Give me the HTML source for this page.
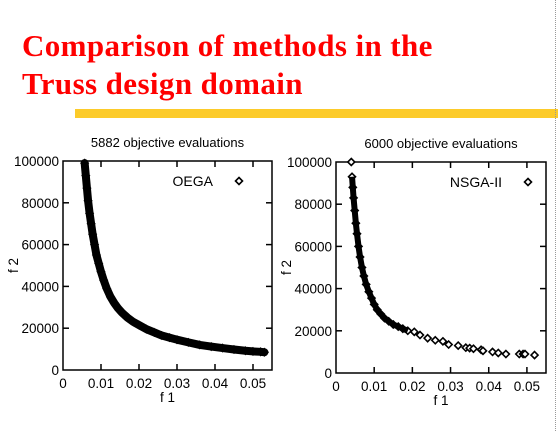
<!DOCTYPE html>
<html><head><meta charset="utf-8"><style>
body{margin:0;background:#fff;width:558px;height:431px;overflow:hidden;position:relative;font-family:"Liberation Sans",sans-serif}
.t{position:absolute;left:22px;color:#f00;font:bold 31px "Liberation Serif",serif;line-height:38px;letter-spacing:0.4px}
</style></head><body>
<div class="t" style="top:27px">Comparison of methods in the<br>Truss design domain</div>
<div style="position:absolute;left:75px;top:109px;width:483px;height:9px;background:#fccb2a"></div>
<div style="position:absolute;left:555px;top:0;width:0;height:431px;border-left:1px dotted #999"></div>
<svg id="svg" width="558" height="431" style="position:absolute;left:0;top:0" font-family="Liberation Sans, sans-serif"></svg>
<script>
const xTicks=[0,0.01,0.02,0.03,0.04,0.05];
const xTickLabels=["0","0.01","0.02","0.03","0.04","0.05"];
const yTicks=[0,20000,40000,60000,80000,100000];
const yTickLabels=["0","20000","40000","60000","80000","100000"];
const oegaF1=[0.0057,0.006,0.0063,0.0066,0.007,0.0074,0.0078,0.0083,0.0088,0.0094,0.01,0.0107,0.0115,0.0125,0.0135,0.0145,0.0155,0.017,0.0185,0.02,0.022,0.024,0.026,0.028,0.03,0.033,0.036,0.039,0.042,0.045,0.048,0.05,0.052,0.053];
const oegaF2=[99000,93000,87000,81000,75000,70000,65000,60000,55000,51000,47000,43000,39000,35000,32000,29500,27500,25000,23000,21500,19500,18000,16500,15500,14500,13200,12000,11200,10500,9800,9200,8900,8700,8500];
const nsgaF1=[0.004,0.0042,0.0044,0.0046,0.0049,0.0052,0.0055,0.0059,0.0063,0.0068,0.0073,0.0079,0.0086,0.0093,0.01,0.0108,0.0117,0.0127,0.0138,0.015,0.0163,0.0175,0.0188,0.0205,0.022,0.024,0.026,0.028,0.0295,0.032,0.034,0.035,0.036,0.038,0.0385,0.041,0.0425,0.0445,0.048,0.049,0.0495,0.052];
const nsgaF2=[100000,93000,88000,83000,77000,71000,66000,60000,55000,50000,46000,42000,38500,35500,32500,30000,28000,26000,24500,23000,22000,21000,20000,19500,18000,16500,15500,15000,13500,13000,12000,11800,11500,11000,10500,10000,9500,9000,9000,9000,9000,8500];
const svg=document.getElementById('svg');const NS='http://www.w3.org/2000/svg';
function mk(tag,at,parent){const e=document.createElementNS(NS,tag);for(const k in at)e.setAttribute(k,at[k]);(parent||svg).appendChild(e);return e;}
function chart(cfg){
  const g=mk('g',{});
  
  
  const sx=v=>cfg.x0+v/0.055*(cfg.x1-cfg.x0), sy=v=>cfg.y1-v/100000*(cfg.y1-cfg.y0);
  const fr=mk('rect',{x:cfg.x0,y:cfg.y0,width:cfg.x1-cfg.x0,height:cfg.y1-cfg.y0,fill:'none',stroke:'#000','stroke-width':1.5},g);
  
  
  xTicks.forEach((v,i)=>{const x=sx(v);
    if(i>0){mk('line',{x1:x,x2:x,y1:cfg.y1,y2:cfg.y1-6,stroke:'#000','stroke-width':1.5},g);mk('line',{x1:x,x2:x,y1:cfg.y0,y2:cfg.y0+6,stroke:'#000','stroke-width':1.5},g);}
    const t=mk('text',{x:x,y:cfg.y1+18,'text-anchor':'middle','font-size':13.5},g);t.textContent=xTickLabels[i];
    
    });
  yTicks.forEach((v,i)=>{const y=sy(v);
    if(i>0&&i<5){mk('line',{x1:cfg.x0,x2:cfg.x0+6,y1:y,y2:y,stroke:'#000','stroke-width':1.5},g);mk('line',{x1:cfg.x1,x2:cfg.x1-6,y1:y,y2:y,stroke:'#000','stroke-width':1.5},g);}
    const t=mk('text',{x:cfg.x0-4,y:y+5,'text-anchor':'end','font-size':13.5},g);t.textContent=yTickLabels[i];
    
    });
  const tt=mk('text',{x:(cfg.x0+cfg.x1)/2,y:cfg.y0-14,'text-anchor':'middle','font-size':13},g);tt.textContent=cfg.title;
  
  
  const xl=mk('text',{x:(cfg.x0+cfg.x1)/2,y:cfg.y1+32,'text-anchor':'middle','font-size':13.5},g);xl.textContent='f 1';
  
  
  const yl=mk('text',{x:0,y:0,'text-anchor':'middle','font-size':13.5,transform:`translate(${cfg.x0-45},${(cfg.y0+cfg.y1)/2}) rotate(-90)`},g);yl.textContent='f 2';
  
  
  const lg=mk('text',{x:cfg.lx,y:cfg.y0+25,'text-anchor':'end','font-size':14},g);lg.textContent=cfg.label;
  
  
  const dm=(x,y,p,f)=>mk('path',{d:`M${x} ${y-3.5}L${x+3.5} ${y}L${x} ${y+3.5}L${x-3.5} ${y}Z`,fill:f||'#fff',stroke:'#000','stroke-width':1.6},p);
  const lm=dm(cfg.lx+26,cfg.y0+20,g);
  
  
  const s=mk('g',{},g);
  
  
  if(cfg.band){let d='';cfg.f1.forEach((v,i)=>{d+=(i?'L':'M')+sx(v)+' '+sy(cfg.f2[i]);});
    mk('path',{d:d,fill:'none',stroke:'#000','stroke-width':cfg.band,'stroke-linejoin':'round','stroke-linecap':'round'},s);}
  cfg.f1.forEach((v,i)=>{const p=dm(sx(v),sy(cfg.f2[i]),s,cfg.fill);
    
    });
}
chart({name:'oega-chart',x0:63,x1:272,y0:161,y1:370,title:'5882 objective evaluations',label:'OEGA',lx:213,f1:oegaF1,f2:oegaF2,band:8,fill:'#000'});
chart({name:'nsga-chart',x0:336,x1:546,y0:162,y1:373,title:'6000 objective evaluations',label:'NSGA-II',lx:502,f1:nsgaF1,f2:nsgaF2,band:0});
(function(){const sx=v=>336+v/0.055*210, sy=v=>373-v/100000*211;let d='';
 for(let i=1;i<23;i++){d+=(i>1?'L':'M')+sx(nsgaF1[i])+' '+sy(nsgaF2[i]);}
 const p=mk('path',{d:d,fill:'none',stroke:'#000','stroke-width':6,'stroke-linejoin':'round'});
 
 })();
</script>
</body></html>
